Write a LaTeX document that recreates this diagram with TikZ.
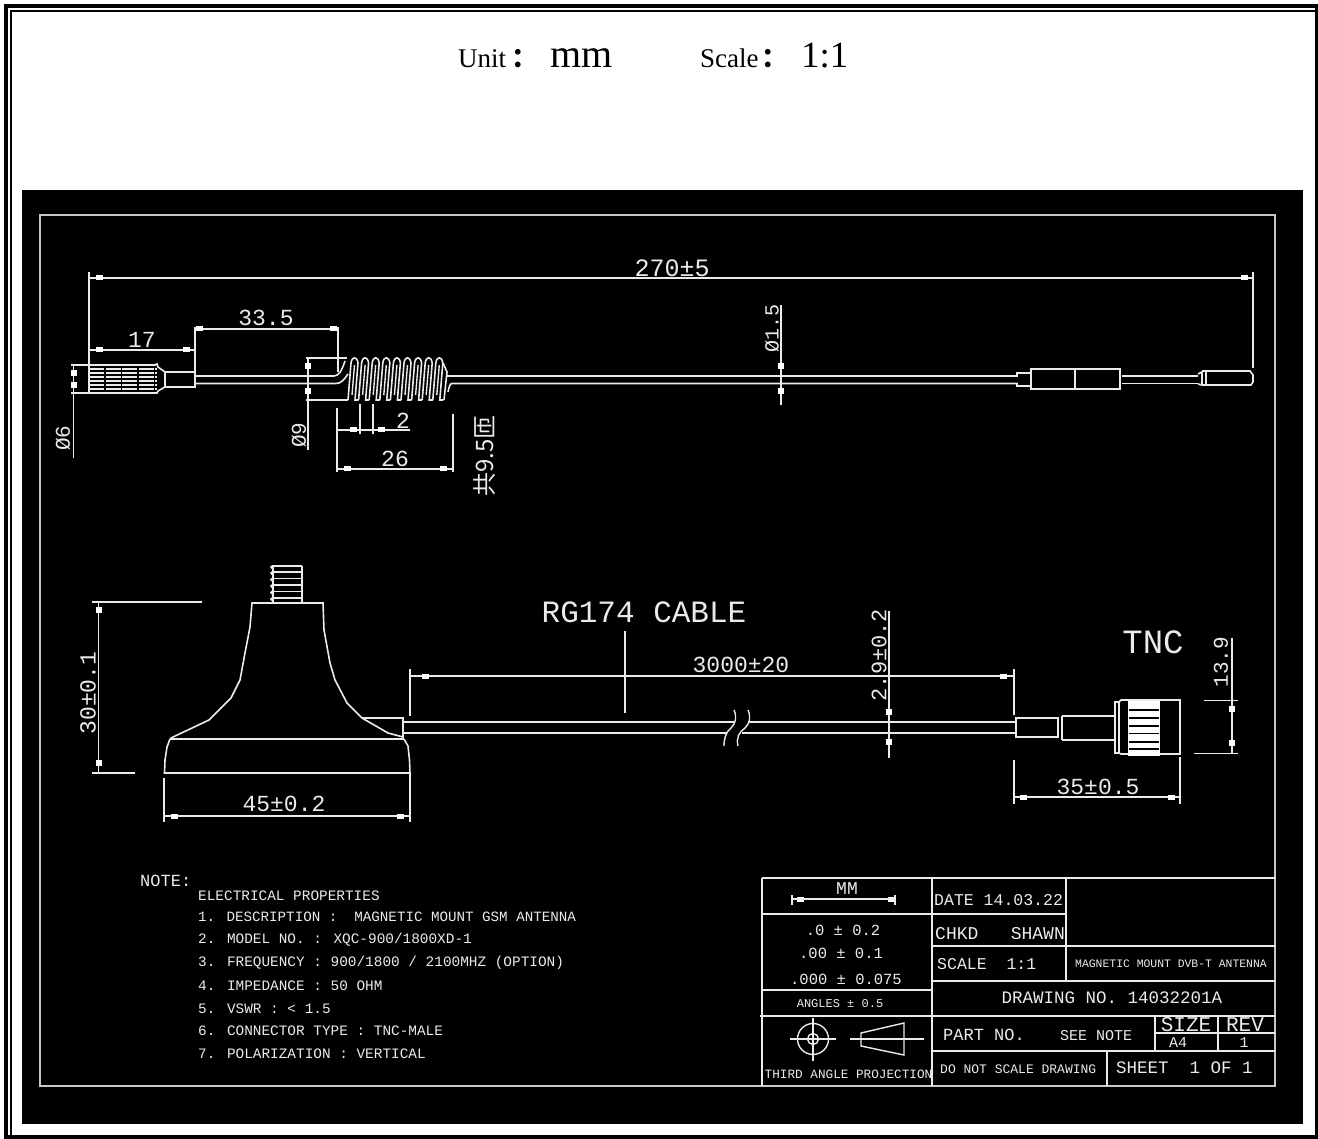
\documentclass[tikz,border=0pt]{standalone}
\usepackage{fontspec}
\setmainfont{Liberation Serif}
\newfontfamily\cadfont{Liberation Mono}
\newfontfamily\cjk{Noto Sans CJK SC}
\usepackage{tikz}
\definecolor{cadwhite}{gray}{0.92}
\tikzset{
  cadtext/.style={font=\cadfont\fontsize{#1}{#1}\selectfont, text=cadwhite, inner sep=0pt},
  cadline/.style={draw=cadwhite, line width=1.6pt},
  thinline/.style={draw=cadwhite, line width=1.4pt},
  headtext/.style={font=\fontsize{#1}{#1}\selectfont, text=black, inner sep=0pt, anchor=base west}
}
\begin{document}
\begin{tikzpicture}[x=1pt,y=-1pt]
    \useasboundingbox (0,0) rectangle (1318,1139);
    \fill[white] (0,0) rectangle (1318,1139);

    % page frame and sheet
    \fill[black] (4,4) rectangle (1318,8);
    \fill[black] (4,4) rectangle (8,1139);
    \fill[black] (10,10) rectangle (1318,12);
    \fill[black] (10,10) rectangle (12,1139);
    \fill[black] (1315,4) rectangle (1318,1139);
    \fill[black] (4,1135) rectangle (1318,1139);
    \fill[black] (22,190) rectangle (1303,1124);
    \draw[draw=cadwhite!85!black, line width=1.6pt] (40,215) rectangle (1275,1086);

    % heading
    \node[headtext=27] (unit) at (458,68) {Unit\hspace{5pt}{\cjk\bfseries ：}};
    \node[headtext=40] (mm) at (550,68) {mm};
    \node[headtext=27] (scale) at (700,68) {Scale\hspace{3pt}{\cjk\bfseries ：}};
    \node[headtext=37] (ratio) at (801,68) {1:1};

    % top: dimension lines
    \draw[thinline] (89,272) -- (89,365);
    \draw[thinline] (1253,272) -- (1253,368);
    \draw[thinline] (89,278) -- (1253,278);
    \draw[thinline] (89,350) -- (195,350);
    \draw[thinline] (195,327) -- (195,371);
    \draw[thinline] (195,329) -- (338,329);
    \draw[thinline] (338,327) -- (338,372);
    \draw[thinline] (71,365) -- (89,365);
    \draw[thinline] (71,393) -- (89,393);
    \draw[thinline] (73.500,365) -- (73.500,458);
    \draw[thinline] (306,358) -- (342,358);
    \draw[thinline] (306,400) -- (348,400);
    \draw[thinline] (308,358) -- (308,450);
    \draw[thinline] (337,408) -- (337,472);
    \draw[thinline] (453,414) -- (453,472);
    \draw[thinline] (337,469) -- (453,469);
    \draw[thinline] (337,430) -- (410,430);
    \draw[thinline] (360,404) -- (360,434);
    \draw[thinline] (373,404) -- (373,434);
    \draw[thinline] (781,305) -- (781,405);

    % top: connector
    \foreach \y in {369,373,377,381,385,389} {
        \draw[cadline, dash pattern=on 15pt off 1.5pt] (89,\y) -- (157,\y);
    }
    \draw[cadline] (89,365) -- (155,365) -- (157,364) -- (158,367) -- (165,372) -- (165,387) -- (158,391) -- (157,393) -- (89,393) -- cycle;
    \draw[cadline] (165,372) rectangle (195,387);
    \draw[cadline] (195,376) -- (334,376) .. controls (339,376) and (342,370) .. (345,361);
    \draw[cadline] (195,383.500) -- (336,383.500) .. controls (341,383.500) and (344,380) .. (348,374);

    % top: coil
    \draw[cadline] (338,358) -- (347,358);
    \foreach \i in {0,...,8} {
        \pgfmathsetmacro\cx{354+\i*10.6}
        \draw[cadline] (\cx-6,400) -- (\cx-3,363) .. controls (\cx-2,356) and (\cx+3,356) .. (\cx+4,363) -- (\cx+1,400) -- (\cx+4.600,400);
        \draw[thinline] (\cx-2,395) -- (\cx+0.500,365);
    }
    \draw[cadline] (443,363) -- (447,372) -- (444,400);

    % top: cable and sleeve
    \draw[cadline] (447,376) .. controls (449,376) and (450,376) .. (452,376) -- (1017,376) -- (1017,373) -- (1031,373);
    \draw[cadline] (448,392) .. controls (449,387) and (450,383.500) .. (452,383.500) -- (1017,383.500) -- (1017,386) -- (1031,386);
    \draw[cadline] (1031,369) rectangle (1120,389);
    \draw[cadline] (1075,369) -- (1075,389);
    \draw[cadline] (1122,376) -- (1198,376);
    \draw[cadline] (1122,383.500) -- (1198,383.500);
    \draw[cadline] (1198,374) -- (1202,372) -- (1202,385) -- (1198,384);
    \draw[cadline] (1202,371) -- (1250,371) -- (1253,375) -- (1253,382) -- (1251,385) -- (1202,385);
    \draw[cadline] (1206,371) -- (1206,385);

    % bottom: thread and base
    \foreach \y in {566,572,578.500,585,591.500,598} {
        \draw[cadline] (272,\y) -- (302,\y);
        \draw[cadline] (272,\y+2.500) -- (271,\y+1) -- (272,\y);
    }
    \draw[cadline] (273,566) -- (273,603);
    \draw[cadline] (302,566) -- (302,603);
    \draw[cadline] (170,739) -- (172,737.500) -- (209,720) -- (231,698) -- (240,680) -- (245,653) -- (250,627) -- (252,603) -- (323,603) -- (324,630) -- (330,663) -- (335,680) -- (347,703) -- (362,718) -- (388,733) -- (403,737);
    \draw[cadline] (170,739) -- (404,739);
    \draw[cadline] (170,739) -- (167,747) -- (165,760) -- (164.500,773) -- (410,773) -- (409.500,760) -- (408,746) -- (404,739);
    \draw[cadline] (362,718) -- (403,718) -- (403,739);

    % bottom: cable with break
    \draw[cadline] (403,722) -- (734,722);
    \draw[cadline] (403,733) -- (727,733);
    \draw[cadline] (748,722) -- (1016,722);
    \draw[cadline] (742,733) -- (1016,733);
    \draw[thinline] (734,710) .. controls (737,717) and (736,723) .. (731,728) .. controls (726,732) and (724,738) .. (724,746);
    \draw[thinline] (748,710) .. controls (751,717) and (750,723) .. (745,728) .. controls (739,732) and (736,738) .. (738,746);

    % bottom: TNC plug
    \draw[cadline] (1016,718) rectangle (1058,737);
    \draw[cadline] (1058,717) -- (1058,738);
    \draw[cadline] (1062,716) -- (1062,740);
    \draw[cadline] (1062,716) -- (1115,716);
    \draw[cadline] (1062,740) -- (1115,740);
    \draw[cadline] (1115,702) rectangle (1119,753);
    \draw[cadline] (1119,702) -- (1121,700) -- (1180,700) -- (1180,754) -- (1121,754) -- (1119,753);
    \fill[white] (1128,701) rectangle (1160,756);
    \foreach \y in {710,718,726,733.500,742,749} {
        \fill[black] (1129,\y-0.800) rectangle (1159,\y+0.800);
    }

    % bottom: dimension lines
    \draw[thinline] (92,602) -- (202,602);
    \draw[thinline] (92,773) -- (135,773);
    \draw[thinline] (98.500,602) -- (98.500,773);
    \draw[thinline] (164,778) -- (164,822);
    \draw[thinline] (410,773) -- (410,822);
    \draw[thinline] (164,816) -- (410,816);
    \draw[thinline] (410,669) -- (410,716);
    \draw[thinline] (1014,669) -- (1014,715);
    \draw[thinline] (410,676) -- (1014,676);
    \draw[thinline] (625,631) -- (625,713);
    \draw[thinline] (889,611) -- (889,758);
    \draw[thinline] (1014,760) -- (1014,804);
    \draw[thinline] (1180,757) -- (1180,804);
    \draw[thinline] (1014,797) -- (1180,797);
    \draw[thinline] (1204,700.500) -- (1238,700.500);
    \draw[thinline] (1194,753.500) -- (1238,753.500);
    \draw[thinline] (1232,638) -- (1232,753.500);

    % dimension marks
    \foreach \x/\y in {99/278,1244/278,99/350,186/350,199/329,333/329,353/430,381/430,347/469,443/469,174/816,400/816,425/676,1003/676,1023/797,1171/797,800/899,891/899} {
        \fill[white] (\x-3.500,\y-2.500) rectangle (\x+3.500,\y+2.500);
    }
    \foreach \x/\y in {73.500/373,73.500/385,308/366,308/391,781/366,781/391,98.500/610,98.500/763,889/712,889/742,1232/709,1232/743} {
        \fill[white] (\x-3,\y-3) rectangle (\x+3,\y+3);
    }

    % dimension texts
    \node[cadtext=25] (len270) at (672,268) {270±5};
    \node[cadtext=23] (len17) at (142,340) {17};
    \node[cadtext=23] (len335) at (266,318) {33.5};
    \node[cadtext=23] (len2) at (403,421) {2};
    \node[cadtext=23] (len26) at (395,459) {26};
    \node[cadtext=21, rotate=90] (dia6) at (63,438) {Ø6};
    \node[cadtext=21, rotate=90] (dia9) at (299,435) {Ø9};
    \node[cadtext=20, rotate=90] (dia15) at (772,328) {Ø1.5};
    \node[font=\cjk\fontsize{24}{24}\selectfont, text=cadwhite, inner sep=0pt, rotate=90] (turns) at (484,456) {共9.5匝};
    \node[cadtext=23, rotate=90] (height30) at (88,693) {30±0.1};
    \node[cadtext=23] (base45) at (284,804) {45±0.2};
    \node[cadtext=31] (cable) at (644,612) {RG174 CABLE};
    \node[cadtext=23] (len3000) at (741,665) {3000±20};
    \node[cadtext=22, rotate=90] (dia29) at (879,655) {2.9±0.2};
    \node[cadtext=34] (tnc) at (1153,642) {TNC};
    \node[cadtext=21, rotate=90] (dia139) at (1221,662) {13.9};
    \node[cadtext=23] (len35) at (1098,787) {35±0.5};

    % notes
    \node[cadtext=17, anchor=west] (note) at (140,881) {NOTE:};
    \node[cadtext=14.400, anchor=west] (note0) at (198,896) {ELECTRICAL PROPERTIES};
    \node[cadtext=14.200, anchor=west] (note1) at (198,917) {1. DESCRIPTION :\ \ MAGNETIC MOUNT GSM ANTENNA};
    \node[cadtext=14.400, anchor=west] (note2) at (198,940) {2. MODEL NO. : XQC-900/1800XD-1};
    \node[cadtext=14.400, anchor=west] (note3) at (198,963) {3. FREQUENCY : 900/1800 / 2100MHZ (OPTION)};
    \node[cadtext=14.400, anchor=west] (note4) at (198,986) {4. IMPEDANCE : 50 OHM};
    \node[cadtext=14.400, anchor=west] (note5) at (198,1009) {5. VSWR : < 1.5};
    \node[cadtext=14.400, anchor=west] (note6) at (198,1031) {6. CONNECTOR TYPE : TNC-MALE};
    \node[cadtext=14.400, anchor=west] (note7) at (198,1054) {7. POLARIZATION : VERTICAL};

    % title block
    \draw[cadline] (762,878) -- (1275,878);
    \draw[cadline] (762,878) -- (762,1086);
    \draw[cadline] (932,878) -- (932,1086);
    \draw[cadline] (1066,878) -- (1066,981);
    \draw[cadline] (762,914) -- (1066,914);
    \draw[cadline] (762,990) -- (932,990);
    \draw[cadline] (932,946) -- (1275,946);
    \draw[cadline] (932,981) -- (1275,981);
    \draw[cadline] (760,1016) -- (1275,1016);
    \draw[cadline] (932,1051) -- (1275,1051);
    \draw[cadline] (1155,1016) -- (1155,1051);
    \draw[cadline] (1218,1016) -- (1218,1051);
    \draw[cadline] (1155,1033) -- (1275,1033);
    \draw[cadline] (1107,1051) -- (1107,1086);

    \draw[thinline] (792,899) -- (895,899);
    \draw[thinline] (792,895) -- (792,905);
    \draw[thinline] (895,895) -- (895,905);
    \node[cadtext=18] (mmhead) at (847,889) {MM};
    \node[cadtext=15.500] (tol1) at (843,930) {.0 ± 0.2};
    \node[cadtext=15.500] (tol2) at (841,953) {.00 ± 0.1};
    \node[cadtext=15.500] (tol3) at (846,979) {.000 ± 0.075};
    \node[cadtext=12] (angles) at (840,1004) {ANGLES ± 0.5};
    \node[cadtext=12.700] (third) at (848.500,1074) {THIRD ANGLE PROJECTION};

    % projection symbol
    \draw[thinline] (813,1039) circle (15.500);
    \draw[thinline] (813,1039) circle (5.500);
    \draw[thinline] (790,1039) -- (836,1039);
    \draw[thinline] (813,1018) -- (813,1061);
    \draw[thinline] (850,1039) -- (924,1039);
    \draw[thinline] (861,1033) -- (904,1023) -- (904,1055) -- (861,1046) -- cycle;

    \node[cadtext=16.500, anchor=west] (date) at (934,900) {DATE 14.03.22};
    \node[cadtext=18, anchor=west] (chkd) at (935,934) {CHKD\ \ \ SHAWN};
    \node[cadtext=16.500, anchor=west] (scalebox) at (937,964) {SCALE\ \ 1:1};
    \node[cadtext=11.400, anchor=west] (title) at (1075,964) {MAGNETIC MOUNT DVB-T ANTENNA};
    \node[cadtext=17.500] (drawing) at (1112,998) {DRAWING NO. 14032201A};
    \node[cadtext=17, anchor=west] (part) at (943,1035) {PART NO.};
    \node[cadtext=15, anchor=west] (seenote) at (1060,1036) {SEE NOTE};
    \node[cadtext=21] (size) at (1186,1025) {SIZE};
    \node[cadtext=21] (rev) at (1245,1025) {REV};
    \node[cadtext=15] (sizeval) at (1178,1043) {A4};
    \node[cadtext=15] (revval) at (1244,1043) {1};
    \node[cadtext=13, anchor=west] (noscale) at (940,1069) {DO NOT SCALE DRAWING};
    \node[cadtext=17.500, anchor=west] (sheet) at (1116,1068) {SHEET\ \ 1 OF 1};
\end{tikzpicture}
\end{document}
